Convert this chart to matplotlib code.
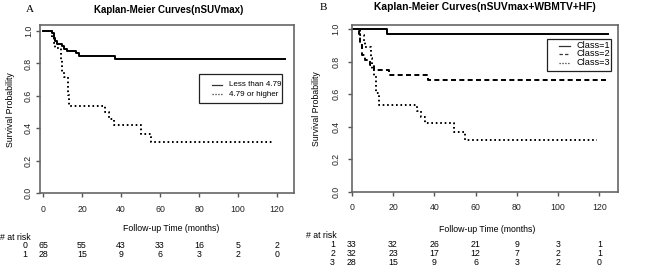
import matplotlib
matplotlib.use("Agg")
import matplotlib.pyplot as plt
import matplotlib.transforms as mtransforms
from matplotlib.lines import Line2D
from matplotlib.patches import Rectangle

plt.rcParams["font.family"] = ["Liberation Sans", "DejaVu Sans"]
plt.rcParams["lines.scale_dashes"] = False

# Panel A: nSUVmax groups (step data)
a_low_t = [0, 4.6, 5.5, 6.4, 7.3, 9.7, 10.8, 12.5, 17, 18.3, 37, 124]
a_low_s = [1.0, 0.985, 0.954, 0.938, 0.923, 0.908, 0.892, 0.877, 0.862, 0.846, 0.829, 0.829]
a_high_t = [0, 4.4, 5.8, 6.2, 9.2, 9.6, 11, 12.8, 13.3, 32, 34, 36.4, 50, 55.5, 117.8]
a_high_s = [1.0, 0.964, 0.929, 0.893, 0.821, 0.75, 0.714, 0.607, 0.536, 0.498, 0.459, 0.421, 0.368, 0.316, 0.316]
a_labels = ["Less than 4.79", "4.79 or higher"]

# Panel B: nSUVmax+WBMTV+HF classes
b_c1_t = [0, 17, 124]
b_c1_s = [1.0, 0.970, 0.970]
b_c2_t = [0, 3.5, 4.2, 5, 6.5, 9, 11, 18, 37, 124]
b_c2_s = [1.0, 0.969, 0.906, 0.844, 0.813, 0.781, 0.75, 0.719, 0.685, 0.685]
b_c3_t = [0, 4.2, 5.8, 6.5, 9.2, 9.7, 11, 12, 13, 31.5, 33.5, 35.5, 49.6, 55, 118.8]
b_c3_s = [1.0, 0.964, 0.929, 0.893, 0.821, 0.75, 0.714, 0.607, 0.536, 0.498, 0.459, 0.421, 0.368, 0.316, 0.316]
b_labels = ["Class=1", "Class=2", "Class=3"]

# numbers at risk
risk_times = [0, 20, 40, 60, 80, 100, 120]
a_risk = {"0": [65, 55, 43, 33, 16, 5, 2],
          "1": [28, 15, 9, 6, 3, 2, 0]}
b_risk = {"1": [33, 32, 26, 21, 9, 3, 1],
          "2": [32, 23, 17, 12, 7, 2, 1],
          "3": [28, 15, 9, 6, 3, 2, 0]}

W, H = 650, 274
FS = 6.3
SOLID = "-"
DASHED = (0, (3.6, 2.4))
DOTTED = (0, (1.2, 2.0))
LEG_DASHED = (0, (2.4, 1.6))
LEG_DOTTED = (0, (0.9, 1.2))


def px(x, y):
    """pixel position -> figure fraction"""
    return x / W, 1 - y / H


def style_axes(ax, xlim, ylim, ypad):
    """R-like base graphics axes"""
    ax.set_xlim(*xlim)
    ax.set_ylim(*ylim)
    ax.set_xticks(range(0, 121, 20))
    ax.set_yticks([0, 0.2, 0.4, 0.6, 0.8, 1.0])
    ax.set_yticklabels(["0.0", "0.2", "0.4", "0.6", "0.8", "1.0"],
                       rotation=90, va="center")
    ax.tick_params(axis="both", direction="out", length=3.2, width=1.0,
                   color="#555555", labelsize=FS, labelcolor="#222222")
    ax.tick_params(axis="x", pad=5.0)
    ax.tick_params(axis="y", pad=ypad)
    for sp in ax.spines.values():
        sp.set_color("#666666")
        sp.set_linewidth(1.2)


def draw_legend(fig, box, rows_y, handle_x, text_x, labels, styles, fs):
    """R style legend box drawn in figure pixels"""
    x0, y0, x1, y1 = box
    fig.patches.append(Rectangle(px(x0, y1), (x1 - x0) / W, (y1 - y0) / H,
                                 transform=fig.transFigure, fill=False,
                                 edgecolor="#222222", lw=0.9))
    for y, lab, ls in zip(rows_y, labels, styles):
        fig.lines.append(Line2D([handle_x[0] / W, handle_x[1] / W],
                                [1 - y / H, 1 - y / H],
                                transform=fig.transFigure, color="#333333",
                                lw=0.9, ls=ls))
        fig.text(text_x / W, 1 - y / H, lab, fontsize=fs, ha="left", va="center")


def risk_table(fig, ax, risk, head_xy, lab_x, row_y):
    """draws the numbers at risk under a panel"""
    trans = mtransforms.blended_transform_factory(ax.transData, fig.transFigure)
    hx, hy = px(*head_xy)
    fig.text(hx, hy, "# at risk", fontsize=FS, ha="left", va="center")
    for (name, vals), y in zip(risk.items(), row_y):
        fig.text(lab_x / W, 1 - y / H, name, fontsize=FS, ha="right", va="center")
        for t, v in zip(risk_times, vals):
            fig.text(t, 1 - y / H, str(v), fontsize=FS, ha="center",
                     va="center", transform=trans)


fig = plt.figure(figsize=(W / 100, H / 100), dpi=100)

# ---- Panel A
axA = fig.add_axes([40 / W, 1 - 193.3 / H, 254 / W, 168.3 / H])
axA.step(a_low_t, a_low_s, where="post", color="black", lw=1.4, ls=SOLID)
axA.step(a_high_t, a_high_s, where="post", color="black", lw=1.4, ls=DOTTED)
style_axes(axA, (-1.54, 128.7), (0, 1.037), 1.8)
axA.set_xlabel("Follow-up Time (months)", fontsize=FS, va="center")
axA.xaxis.set_label_coords(0.518, -0.212)
axA.set_ylabel("Survival Probability", fontsize=FS, va="center")
axA.yaxis.set_label_coords(-0.118, 0.5)
axA.text(0.508, 1.089, "Kaplan-Meier Curves(nSUVmax)", transform=axA.transAxes,
         fontsize=7.0, fontweight="bold", ha="center", va="center")
draw_legend(fig, (199, 74, 281.7, 103.3), [85, 94.3], (211.7, 221.7), 229.3,
            a_labels, [SOLID, LEG_DOTTED], 5.8)
risk_table(fig, axA, a_risk, (0, 237.3), 27.5, [245.7, 254.3])

# ---- Panel B
axB = fig.add_axes([351.7 / W, 1 - 191.7 / H, 266 / W, 166.7 / H])
axB.step(b_c1_t, b_c1_s, where="post", color="black", lw=1.4, ls=SOLID)
axB.step(b_c2_t, b_c2_s, where="post", color="black", lw=1.4, ls=DASHED)
axB.step(b_c3_t, b_c3_s, where="post", color="black", lw=1.4, ls=DOTTED)
style_axes(axB, (0, 128.9), (0, 1.026), 5.0)
axB.set_xlabel("Follow-up Time (months)", fontsize=FS, va="center")
axB.xaxis.set_label_coords(0.509, -0.224)
axB.set_ylabel("Survival Probability", fontsize=FS, va="center")
axB.yaxis.set_label_coords(-0.1316, 0.5)
axB.text(0.501, 1.106, "Kaplan-Meier Curves(nSUVmax+WBMTV+HF)",
         transform=axB.transAxes, fontsize=7.4, fontweight="bold",
         ha="center", va="center")
draw_legend(fig, (547.3, 39.3, 611, 71), [46, 54, 62.5], (559.3, 570), 576.7,
            b_labels, [SOLID, LEG_DASHED, LEG_DOTTED], 6.6)
risk_table(fig, axB, b_risk, (306, 235), 335, [244.3, 253.3, 262.3])

# panel letters
fig.text(*px(30, 10), "A", fontsize=8, family=["Liberation Serif", "DejaVu Serif"],
         ha="center", va="center")
fig.text(*px(323.5, 7.5), "B", fontsize=8, family=["Liberation Serif", "DejaVu Serif"],
         ha="center", va="center")

fig.savefig("out.png", dpi=100)
